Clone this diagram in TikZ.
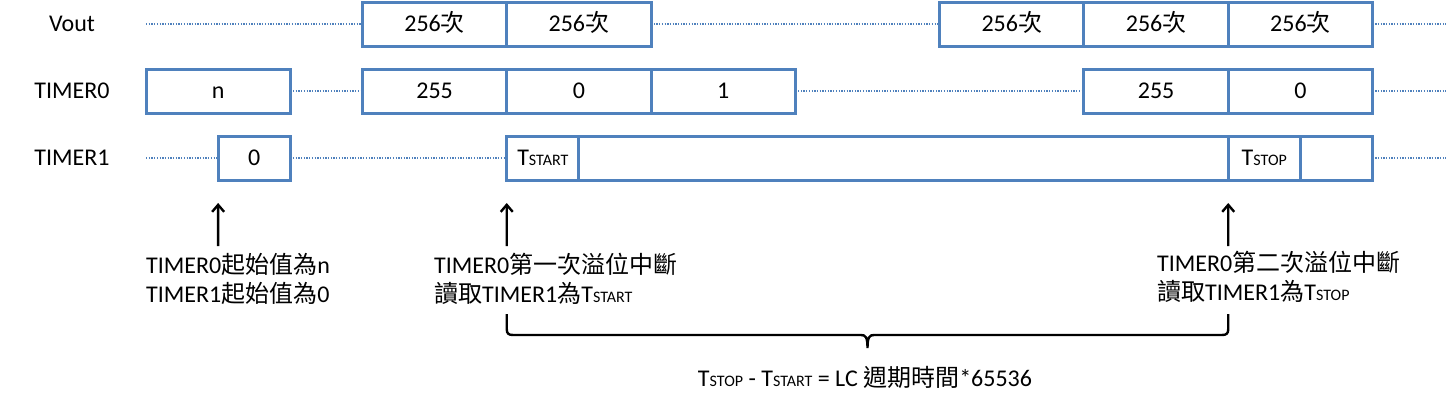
\documentclass[tikz,border=0pt]{standalone}
\usepackage{fontspec}
\setmainfont{Carlito}
\newfontfamily\cjk{Noto Sans CJK TC}
\usetikzlibrary{arrows.meta}
\definecolor{boxblue}{RGB}{79,129,189}
\newcommand\tsm[1]{{\fontsize{16}{18}\selectfont #1}}
\begin{document}
\begin{tikzpicture}[x=1pt,y=-1pt,
  cell/.style={draw=boxblue, line width=3pt, fill=white, minimum height=44pt, inner sep=0pt, outer sep=0pt,
    text height=15.5pt, text depth=0pt, font=\fontsize{24}{29}\selectfont},
  lbl/.style={font=\fontsize{24}{29}\selectfont, inner sep=0pt, text height=15.5pt, text depth=0pt},
  ann/.style={font=\fontsize{24}{29}\selectfont, inner sep=0pt, anchor=base west},
  dotline/.style={draw=boxblue, line width=2.2pt, dash pattern=on 1.3pt off 1.4pt},
  arr/.style={line width=2.4pt, -{Straight Barb[length=7pt,width=12pt]}},
  brace/.style={line width=2.4pt},
]
\useasboundingbox (0,0) rectangle (1446,402);

% row labels
\node[lbl] (lv) at (72,24) {Vout};
\node[lbl] (l0) at (72,91) {TIMER0};
\node[lbl] (l1) at (72,158) {TIMER1};

% Vout row
\node[cell, minimum width=144.3pt] (v1) at (434.6,24) {256{\cjk 次}};
\node[cell, minimum width=144.3pt] (v2) at (578.9,24) {256{\cjk 次}};
\node[cell, minimum width=144.3pt] (v3) at (1011.8,24) {256{\cjk 次}};
\node[cell, minimum width=144.3pt] (v4) at (1156.1,24) {256{\cjk 次}};
\node[cell, minimum width=144.3pt] (v5) at (1300.4,24) {256{\cjk 次}};
\coordinate (v0s) at (146,24);
\coordinate (v0e) at (1446,24);
\draw[dotline] (v0s) -- (v1.west);
\draw[dotline] (v2.east) -- (v3.west);
\draw[dotline] (v5.east) -- (v0e);

% TIMER0 row
\node[cell, minimum width=144.3pt] (t0a) at (218.15,91) {n};
\node[cell, minimum width=144.3pt] (t0b) at (434.6,91) {255};
\node[cell, minimum width=144.3pt] (t0c) at (578.9,91) {0};
\node[cell, minimum width=144.3pt] (t0d) at (723.2,91) {1};
\node[cell, minimum width=144.3pt] (t0e) at (1156.1,91) {255};
\node[cell, minimum width=144.3pt] (t0f) at (1300.4,91) {0};
\coordinate (t0end) at (1446,91);
\draw[dotline] (t0a.east) -- (t0b.west);
\draw[dotline] (t0d.east) -- (t0e.west);
\draw[dotline] (t0f.east) -- (t0end);

% TIMER1 row
\node[cell, minimum width=72.15pt] (t1a) at (254.2,158) {0};
\node[cell, minimum width=72.15pt] (t1b) at (542.8,158) {T\tsm{START}};
\node[cell, minimum width=649.35pt] (t1c) at (903.6,158) {};
\node[cell, minimum width=72.15pt] (t1d) at (1264.3,158) {T\tsm{STOP}};
\node[cell, minimum width=72.15pt] (t1e) at (1336.5,158) {};
\coordinate (t1s) at (146,158);
\coordinate (t1end) at (1446,158);
\draw[dotline] (t1s) -- (t1a.west);
\draw[dotline] (t1a.east) -- (t1b.west);
\draw[dotline] (t1e.east) -- (t1end);

% annotations
\node[ann] (n1a) at (146,273) {TIMER0{\cjk 起始值為}n};
\node[ann] (n1b) at (146,302) {TIMER1{\cjk 起始值為}0};
\node[ann] (n2a) at (434,273) {TIMER0{\cjk 第一次溢位中斷}};
\node[ann] (n2b) at (434,302) {{\cjk 讀取}TIMER1{\cjk 為}T\tsm{START}};
\node[ann] (n3a) at (1157,271) {TIMER0{\cjk 第二次溢位中斷}};
\node[ann] (n3b) at (1157,300) {{\cjk 讀取}TIMER1{\cjk 為}T\tsm{STOP}};

% arrows
\coordinate (a1) at (218.15,246);
\coordinate (a2) at (506.75,246);
\coordinate (a3) at (1228.25,246);
\draw[arr] (a1) -- ([yshift=-23pt]t1a.south west);
\draw[arr] (a2) -- ([yshift=-23pt]t1b.south west);
\draw[arr] (a3) -- ([yshift=-23pt]t1d.south west);

% brace
\coordinate (bl) at (506.75,314);
\coordinate (br) at (1228.25,314);
\coordinate (bt) at (867.5,348);
\draw[brace] (bl) -- (506.75,329) .. controls (506.75,333.5) and (508.5,335) .. (513,335)
  -- (861,335) .. controls (865.5,335) and (867.5,337) .. (bt)
  .. controls (867.5,337) and (869.5,335) .. (874,335)
  -- (1222,335) .. controls (1226.5,335) and (1228.25,333.5) .. (1228.25,329) -- (br);

% formula
\node[font=\fontsize{24}{29}\selectfont, inner sep=0pt, anchor=base] (f) at (865,386)
  {T\tsm{STOP} - T\tsm{START} = LC {\cjk 週期時間}*65536};
\end{tikzpicture}
\end{document}
